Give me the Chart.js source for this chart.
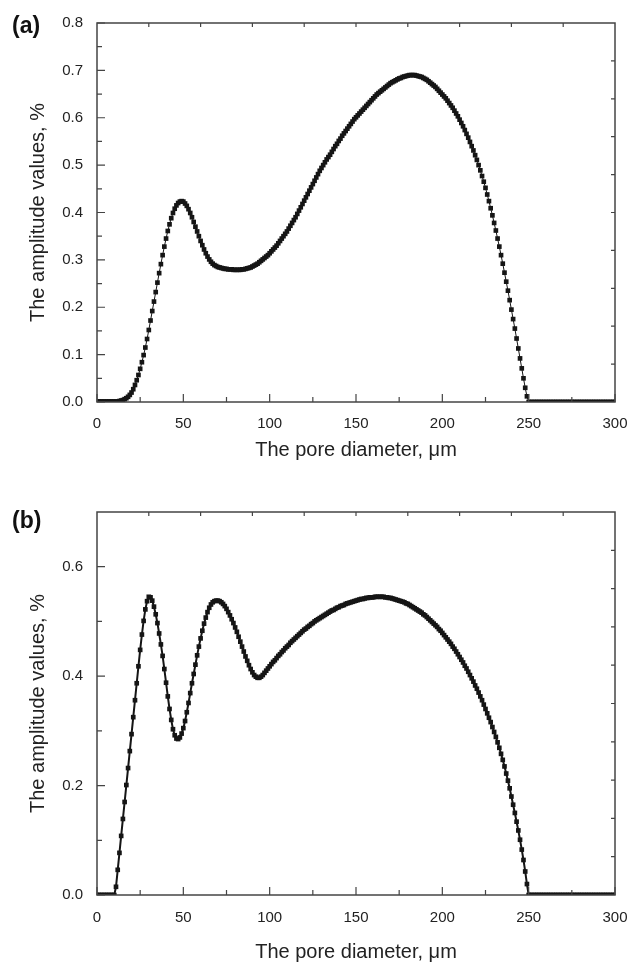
<!DOCTYPE html>
<html><head><meta charset="utf-8">
<script src="https://cdn.jsdelivr.net/npm/chart.js@4"></script>
<style>
html,body{margin:0;padding:0;background:#fff;}
.box{position:absolute;left:0;width:643px;}
#boxA{top:0;height:480px;}
#boxB{top:483px;height:483px;}
</style>
</head><body>
<div id="boxA" class="box"><canvas id="ca"></canvas></div>
<div id="boxB" class="box"><canvas id="cb"></canvas></div>
<script>
// pore diameter grid, µm
const diameters = [0,1,2,3,4,5,6,7,8,9,10,11,12,13,14,15,16,17,18,19,20,21,22,23,24,25,26,27,28,29,30,31,32,33,34,35,36,37,38,39,40,41,42,43,44,45,46,47,48,49,50,51,52,53,54,55,56,57,58,59,60,61,62,63,64,65,66,67,68,69,70,71,72,73,74,75,76,77,78,79,80,81,82,83,84,85,86,87,88,89,90,91,92,93,94,95,96,97,98,99,100,101,102,103,104,105,106,107,108,109,110,111,112,113,114,115,116,117,118,119,120,121,122,123,124,125,126,127,128,129,130,131,132,133,134,135,136,137,138,139,140,141,142,143,144,145,146,147,148,149,150,151,152,153,154,155,156,157,158,159,160,161,162,163,164,165,166,167,168,169,170,171,172,173,174,175,176,177,178,179,180,181,182,183,184,185,186,187,188,189,190,191,192,193,194,195,196,197,198,199,200,201,202,203,204,205,206,207,208,209,210,211,212,213,214,215,216,217,218,219,220,221,222,223,224,225,226,227,228,229,230,231,232,233,234,235,236,237,238,239,240,241,242,243,244,245,246,247,248,249,250,251,252,253,254,255,256,257,258,259,260,261,262,263,264,265,266,267,268,269,270,271,272,273,274,275,276,277,278,279,280,281,282,283,284,285,286,287,288,289,290,291,292,293,294,295,296,297,298,299,300];

// panel (a) amplitude values, %
const amplitudeA = [
0.001,0.001,0.001,0.001,0.001,0.001,0.001,0.001,0.001,0.001,
0.001,0.001,0.001,0.002,0.003,0.004,0.006,0.008,0.011,0.015,
0.020,0.027,0.036,0.046,0.057,0.070,0.084,0.099,0.115,0.133,
0.152,0.172,0.192,0.212,0.232,0.252,0.272,0.291,0.310,0.328,
0.345,0.361,0.375,0.388,0.399,0.408,0.415,0.420,0.423,0.424,
0.423,0.419,0.414,0.407,0.399,0.390,0.380,0.370,0.360,0.350,
0.340,0.331,0.322,0.314,0.307,0.301,0.296,0.292,0.289,0.287,
0.285,0.284,0.283,0.282,0.281,0.281,0.280,0.280,0.280,0.279,
0.279,0.279,0.279,0.279,0.280,0.280,0.281,0.282,0.283,0.284,
0.286,0.288,0.290,0.292,0.295,0.298,0.301,0.304,0.307,0.310,
0.314,0.318,0.322,0.326,0.330,0.335,0.340,0.345,0.350,0.355,
0.360,0.366,0.372,0.378,0.384,0.390,0.397,0.404,0.411,0.418,
0.425,0.432,0.439,0.446,0.453,0.460,0.467,0.474,0.481,0.488,
0.494,0.500,0.506,0.512,0.517,0.522,0.528,0.534,0.540,0.545,
0.551,0.556,0.562,0.567,0.572,0.577,0.582,0.587,0.592,0.597,
0.601,0.605,0.609,0.613,0.617,0.621,0.625,0.629,0.633,0.637,
0.641,0.645,0.649,0.652,0.655,0.658,0.661,0.664,0.667,0.670,
0.673,0.675,0.677,0.679,0.681,0.683,0.684,0.686,0.687,0.688,
0.689,0.690,0.690,0.690,0.690,0.689,0.688,0.687,0.686,0.684,
0.682,0.680,0.677,0.674,0.671,0.668,0.665,0.661,0.657,0.653,
0.649,0.645,0.641,0.636,0.631,0.626,0.621,0.615,0.609,0.603,
0.596,0.589,0.582,0.574,0.566,0.558,0.549,0.540,0.531,0.521,
0.511,0.500,0.489,0.477,0.465,0.452,0.438,0.424,0.409,0.394,
0.378,0.362,0.345,0.328,0.310,0.292,0.273,0.254,0.235,0.215,
0.195,0.175,0.155,0.134,0.113,0.092,0.071,0.050,0.030,0.012,
0.000,0.000,0.000,0.000,0.000,0.000,0.000,0.000,0.000,0.000,
0.000,0.000,0.000,0.000,0.000,0.000,0.000,0.000,0.000,0.000,
0.000,0.000,0.000,0.000,0.000,0.000,0.000,0.000,0.000,0.000,
0.000,0.000,0.000,0.000,0.000,0.000,0.000,0.000,0.000,0.000,
0.000,0.000,0.000,0.000,0.000,0.000,0.000,0.000,0.000,0.000,
0.000];

// panel (b) amplitude values, %
const amplitudeB = [
0.000,0.000,0.000,0.000,0.000,0.000,0.000,0.000,0.000,0.000,
0.000,0.015,0.046,0.077,0.108,0.139,0.170,0.201,0.232,0.263,
0.294,0.325,0.356,0.387,0.418,0.448,0.476,0.501,0.522,0.537,
0.545,0.544,0.538,0.527,0.513,0.497,0.478,0.458,0.437,0.413,
0.388,0.363,0.340,0.320,0.303,0.292,0.286,0.285,0.288,0.295,
0.305,0.318,0.334,0.351,0.369,0.387,0.404,0.421,0.438,0.454,
0.469,0.483,0.496,0.507,0.517,0.525,0.531,0.535,0.537,0.538,
0.538,0.537,0.535,0.532,0.528,0.523,0.517,0.511,0.504,0.497,
0.489,0.481,0.472,0.463,0.454,0.445,0.436,0.428,0.420,0.413,
0.407,0.402,0.399,0.397,0.397,0.399,0.402,0.406,0.410,0.414,
0.418,0.422,0.426,0.429,0.433,0.437,0.440,0.444,0.447,0.451,
0.454,0.457,0.461,0.464,0.467,0.470,0.473,0.476,0.479,0.482,
0.485,0.487,0.490,0.492,0.495,0.497,0.500,0.502,0.504,0.506,
0.508,0.510,0.512,0.514,0.516,0.518,0.520,0.521,0.523,0.525,
0.526,0.528,0.529,0.530,0.532,0.533,0.534,0.535,0.536,0.537,
0.538,0.539,0.540,0.541,0.541,0.542,0.543,0.543,0.544,0.544,
0.544,0.545,0.545,0.545,0.545,0.545,0.545,0.544,0.544,0.543,
0.543,0.542,0.541,0.540,0.539,0.538,0.537,0.536,0.535,0.533,
0.532,0.530,0.528,0.526,0.524,0.522,0.520,0.518,0.516,0.513,
0.511,0.508,0.505,0.502,0.499,0.496,0.493,0.490,0.486,0.483,
0.479,0.475,0.471,0.467,0.463,0.459,0.454,0.450,0.445,0.440,
0.435,0.430,0.425,0.419,0.414,0.408,0.402,0.396,0.390,0.383,
0.377,0.370,0.363,0.356,0.348,0.340,0.332,0.324,0.316,0.307,
0.298,0.289,0.279,0.269,0.258,0.247,0.235,0.222,0.209,0.195,
0.180,0.165,0.150,0.134,0.118,0.101,0.083,0.064,0.043,0.020,
0.000,0.000,0.000,0.000,0.000,0.000,0.000,0.000,0.000,0.000,
0.000,0.000,0.000,0.000,0.000,0.000,0.000,0.000,0.000,0.000,
0.000,0.000,0.000,0.000,0.000,0.000,0.000,0.000,0.000,0.000,
0.000,0.000,0.000,0.000,0.000,0.000,0.000,0.000,0.000,0.000,
0.000,0.000,0.000,0.000,0.000,0.000,0.000,0.000,0.000,0.000,
0.000];

// tick labels and tick positions
const xTickLabels = ['0','50','100','150','200','250','300'];
const xMinorTicks = [25,75,125,175,225,275];
const xTopTicks = [30,60,90,120,150,180,210,240,270];
const yTickLabelsA = ['0.0','0.1','0.2','0.3','0.4','0.5','0.6','0.7','0.8'];
const yMinorTicksA = [0.05,0.15,0.25,0.35,0.45,0.55,0.65,0.75];
const yRightTicksA = [0.08,0.16,0.24,0.32,0.40,0.48,0.56,0.64,0.72];
const yTickLabelsB = ['0.0','0.2','0.4','0.6'];
const yMinorTicksB = [0.1,0.3,0.5];
const yRightTicksB = [0.07,0.14,0.21,0.28,0.35,0.42,0.49,0.56,0.63];

const xTitle = 'The pore diameter, μm';
const yTitle = 'The amplitude values, %';

Chart.defaults.font.family = '"Liberation Sans", Arial, Helvetica, sans-serif';
Chart.defaults.color = '#222';

function framePlugin(o) {
  return {
    id: 'frame' + o.label,
    afterDraw(chart) {
      const ctx = chart.ctx;
      const a = chart.chartArea;
      const xs = chart.scales.x, ys = chart.scales.y;
      ctx.save();
      ctx.strokeStyle = '#444';
      ctx.lineWidth = 1.5;
      ctx.strokeRect(a.left, a.top, a.right - a.left, a.bottom - a.top);
      ctx.lineWidth = 1.2;
      ctx.beginPath();
      const tk = (x1, y1, x2, y2) => { ctx.moveTo(x1, y1); ctx.lineTo(x2, y2); };
      xTickLabels.forEach(s => { const p = xs.getPixelForValue(+s); tk(p, a.bottom, p, a.bottom - 8); });
      xMinorTicks.forEach(v => { const p = xs.getPixelForValue(v); tk(p, a.bottom, p, a.bottom - 5); });
      xTopTicks.forEach(v => { const p = xs.getPixelForValue(v); tk(p, a.top, p, a.top + 4); });
      o.yLabels.forEach(s => { const p = ys.getPixelForValue(+s); tk(a.left, p, a.left + 8, p); });
      o.yMinor.forEach(v => { const p = ys.getPixelForValue(v); tk(a.left, p, a.left + 5, p); });
      o.yRight.forEach(v => { const p = ys.getPixelForValue(v); tk(a.right, p, a.right - 4, p); });
      ctx.stroke();
      ctx.fillStyle = '#111';
      ctx.font = 'bold 23px "Liberation Sans", Arial, sans-serif';
      ctx.textBaseline = 'alphabetic';
      ctx.fillText(o.label, 12, o.labelY);
      ctx.restore();
    }
  };
}

function makeChart(id, values, o) {
  return new Chart(document.getElementById(id), {
    type: 'line',
    data: {
      datasets: [{
        data: diameters.map((d, i) => ({ x: d, y: values[i] })),
        borderColor: '#151515',
        borderWidth: o.lineWidth,
        pointStyle: 'rect',
        pointRadius: 3.3,
        pointBackgroundColor: '#151515',
        pointBorderWidth: 0,
        tension: 0
      }]
    },
    options: {
      responsive: true,
      maintainAspectRatio: false,
      animation: false,
      events: [],
      layout: { padding: { left: 0, top: o.padTop, right: 28, bottom: 0 } },
      plugins: { legend: { display: false }, tooltip: { enabled: false } },
      scales: {
        x: {
          type: 'linear', min: 0, max: 300,
          afterBuildTicks: s => { s.ticks = xTickLabels.map(t => ({ value: +t })); },
          afterFit: s => { s.height = o.xHeight; },
          grid: { display: false, drawTicks: false },
          border: { display: false },
          ticks: { autoSkip: false, maxRotation: 0, padding: o.xTickPad, font: { size: 15 }, color: '#222',
                   callback: (v, i) => xTickLabels[i] },
          title: { display: true, text: xTitle, font: { size: 20 }, color: '#222', padding: { top: 0, bottom: o.xTitlePad } }
        },
        y: {
          type: 'linear', min: 0, max: o.yMax,
          afterBuildTicks: s => { s.ticks = o.yLabels.map(t => ({ value: +t })); },
          afterFit: s => { s.width = 97; },
          grid: { display: false, drawTicks: false },
          border: { display: false },
          ticks: { autoSkip: false, padding: 14, font: { size: 15 }, color: '#222',
                   callback: (v, i) => o.yLabels[i] },
          title: { display: true, text: yTitle, font: { size: 20 }, color: '#222', padding: { top: 26, bottom: 0 } }
        }
      }
    },
    plugins: [framePlugin(o)]
  });
}

makeChart('ca', amplitudeA, {
  label: '(a)', labelY: 33, padTop: 17, xHeight: 78, xTickPad: 13, xTitlePad: 18,
  yMax: 0.8, yLabels: yTickLabelsA, yMinor: yMinorTicksA, yRight: yRightTicksA, lineWidth: 1
});
makeChart('cb', amplitudeB, {
  label: '(b)', labelY: 45, padTop: 29, xHeight: 71, xTickPad: 14, xTitlePad: 2,
  yMax: 0.7, yLabels: yTickLabelsB, yMinor: yMinorTicksB, yRight: yRightTicksB, lineWidth: 2
});
</script>
</body></html>
